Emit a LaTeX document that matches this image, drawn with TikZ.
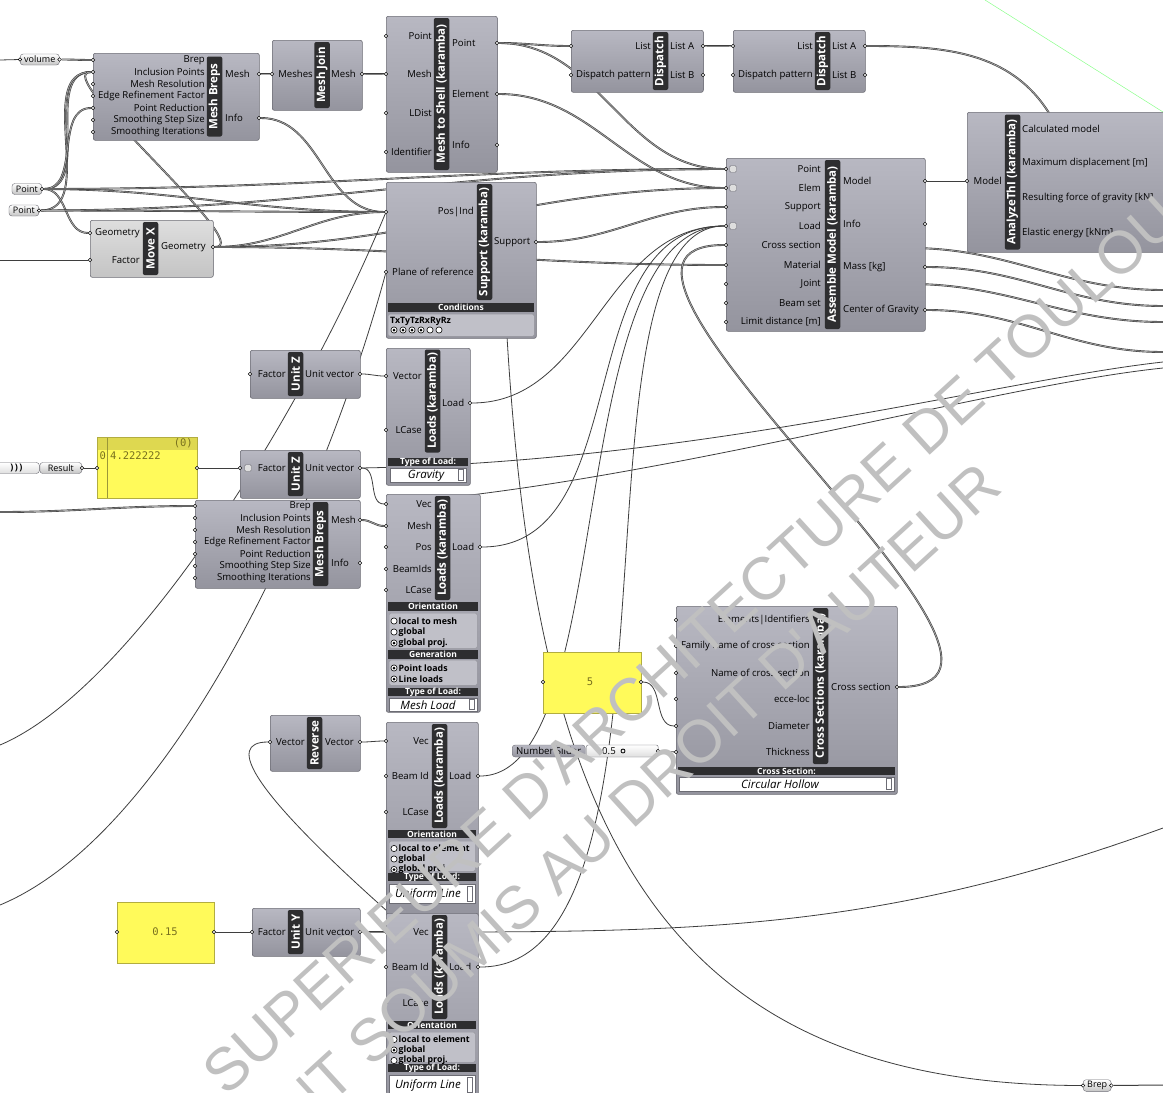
\documentclass[tikz,border=0pt]{standalone}
\usepackage{fontspec}
\setmainfont{Open Sans}
\newfontfamily\wmfont{Liberation Sans}
\newfontfamily\panelfont{DejaVu Sans Mono}
\usepackage{pdfrender}
\usetikzlibrary{backgrounds}

\definecolor{ghtop}{RGB}{184,184,194}
\definecolor{ghbot}{RGB}{148,148,158}
\definecolor{ghedge}{RGB}{108,108,116}
\definecolor{ghband}{RGB}{46,46,48}
\definecolor{ghlight}{RGB}{222,222,222}
\definecolor{ghlightb}{RGB}{196,196,196}
\definecolor{ghwire}{RGB}{62,62,62}
\definecolor{ghwirein}{RGB}{170,170,170}
\definecolor{ghyellow}{RGB}{255,250,90}
\definecolor{ghyellowd}{RGB}{222,216,80}
\definecolor{ghpaneltxt}{RGB}{120,112,30}
\definecolor{ghfield}{RGB}{192,192,200}
\definecolor{wmgray}{RGB}{192,192,192}

\begin{document}
\begin{tikzpicture}[x=1pt,y=-1pt,
        comp/.style={draw=ghedge,top color=ghtop,bottom color=ghbot,rounded corners=2pt,line width=0.6pt,anchor=north west,inner sep=0pt},
        compl/.style={comp,top color=ghlight,bottom color=ghlightb},
        band/.style={rotate=90,fill=ghband,text=white,rounded corners=2pt,inner sep=0pt,minimum height=15.5,font=\bfseries\fontsize{11.5}{11.5}\selectfont},
        inl/.style={anchor=east,inner sep=0pt,font=\fontsize{9.6}{10}\selectfont},
        outl/.style={anchor=west,inner sep=0pt,font=\fontsize{9.6}{10}\selectfont},
        port/.style={circle,draw=black,fill=white,inner sep=0pt,minimum size=3.6pt,line width=0.45pt},
        pill/.style={draw=ghedge,top color=white,bottom color=ghlightb,rounded corners=3pt,inner xsep=4pt,inner ysep=1.5pt,minimum height=11,font=\fontsize{9}{9}\selectfont},
        panel/.style={draw=ghyellowd!80!black,fill=ghyellow,anchor=north west,inner sep=0pt,line width=0.5pt},
        ptxt/.style={inner sep=0pt,text=ghpaneltxt,font=\panelfont\fontsize{10.5}{11}\selectfont},
        bar/.style={fill=ghband,text=white,inner sep=0pt,minimum height=8.5,font=\bfseries\fontsize{8.5}{8.5}\selectfont},
        rfield/.style={fill=ghfield,draw=ghedge!70,rounded corners=1.5pt,anchor=north west,inner sep=0pt,line width=0.4pt},
        radio/.style={circle,draw=black,line width=0.6pt,fill=white,minimum size=6.2pt,inner sep=0pt,
            path picture={\fill[black,opacity=#1] (path picture bounding box.center) circle (1.5pt);}},
        rtxt/.style={anchor=west,inner sep=0pt,font=\bfseries\fontsize{8.8}{9}\selectfont},
        tfield/.style={draw=ghedge,fill=white,anchor=north west,inner sep=0pt,line width=0.5pt},
        ttxt/.style={inner sep=0pt,font=\itshape\fontsize{11.5}{12}\selectfont},
        tbtn/.style={draw=ghedge,fill=white,inner sep=0pt,minimum width=5,minimum height=11,line width=0.4pt},
        icon/.style={draw=ghedge,fill=ghlight,inner sep=0pt,minimum size=6.5,rounded corners=1pt,line width=0.4pt},
        wire/.style={draw=ghwire,line width=0.8pt},
        lwire/.style={draw=ghwire,line width=0.6pt,double=ghwirein,double distance=0.7pt},
        gh/.style={out=0,in=180},
        wm/.style={inner sep=0pt,text=wmgray,font=\wmfont\fontsize{60}{60}\selectfont,rotate=42.4}
    ]
        \useasboundingbox (0,0) rectangle (1163,1093);

        % Params on the left
        \node[pill,anchor=west] (vol) at (20,59.5) {volume};
        \node[port] (vol-i) at (vol.west) {};
        \node[port] (vol-o) at (vol.east) {};
        \node[pill,anchor=east] (pt1) at (42,189) {Point};
        \node[port] (pt1-o) at (pt1.east) {};
        \node[pill,anchor=east] (pt2) at (39,210.5) {Point};
        \node[port] (pt2-o) at (pt2.east) {};

        % Mesh Breps (top)
        \node[comp,minimum width=166,minimum height=87] (mbA) at (93,53) {};
        \node[band,minimum width=80] (mbA-t) at (214.5,96.5) {Mesh Breps};
        \foreach \lab/\y [count=\i] in {Brep/60,Inclusion Points/72,Mesh Resolution/84,Edge Refinement Factor/96,Point Reduction/108,Smoothing Step Size/120,Smoothing Iterations/132}
            {\node[inl] (mbA-l\i) at (205,\y) {\lab}; \node[port] (mbA-i\i) at (93,\y) {};}
        \foreach \lab/\y [count=\i] in {Mesh/74,Info/118}
            {\node[outl] (mbA-m\i) at (225,\y) {\lab}; \node[port] (mbA-o\i) at (259,\y) {};}

        % Mesh Join
        \node[comp,minimum width=90,minimum height=70] (mj) at (272,40) {};
        \node[band,minimum width=66] (mj-t) at (322,75) {Mesh Join};
        \node[inl] (mj-l) at (313,74) {Meshes};
        \node[outl] (mj-m) at (331,74) {Mesh};
        \node[port] (mj-i) at (272,74) {};
        \node[port] (mj-o) at (362,74) {};

        % Mesh to Shell
        \node[comp,minimum width=111,minimum height=156] (ms) at (386,16) {};
        \node[band,minimum width=152] (ms-t) at (441.5,94) {Mesh to Shell (karamba)};
        \foreach \lab/\y [count=\i] in {Point/36,Mesh/74,LDist/113,Identifier/152}
            {\node[inl] (ms-l\i) at (432,\y) {\lab}; \node[port] (ms-i\i) at (386,\y) {};}
        \foreach \lab/\y [count=\i] in {Point/43,Element/94,Info/145}
            {\node[outl] (ms-m\i) at (452,\y) {\lab}; \node[port] (ms-o\i) at (497,\y) {};}

        % Dispatch x2
        \foreach \d/\x in {dpA/571,dpB/733} {
            \node[comp,minimum width=132,minimum height=62] (\d) at (\x,30) {};
            \node[band,minimum width=58] (\d-t) at (\x+89.5,61) {Dispatch};
            \node[inl] (\d-l1) at (\x+80,46) {List};
            \node[inl] (\d-l2) at (\x+80,75) {Dispatch pattern};
            \node[outl] (\d-m1) at (\x+99,46) {List A};
            \node[outl] (\d-m2) at (\x+99,75) {List B};
            \node[port] (\d-i1) at (\x,46) {};
            \node[port] (\d-i2) at (\x,75) {};
            \node[port] (\d-o1) at (\x+132,46) {};
            \node[port] (\d-o2) at (\x+132,75) {};
        }

        % AnalyzeThI
        \node[comp,minimum width=230,minimum height=140] (an) at (967,112) {};
        \node[band,minimum width=135] (an-t) at (1012.5,182) {AnalyzeThI (karamba)};
        \node[inl] (an-l) at (1002,181) {Model};
        \node[port] (an-i) at (967,181) {};
        \foreach \lab/\y [count=\i] in {Calculated model/129,Maximum displacement [m]/163,Resulting force of gravity [kN]/198,Elastic energy [kNm]/233}
            {\node[outl] (an-m\i) at (1022,\y) {\lab};}
        \coordinate (anT) at (1052,118);

        % Assemble Model
        \node[comp,minimum width=199,minimum height=173] (as) at (726,158) {};
        \node[band,minimum width=169] (as-t) at (832.5,244.5) {Assemble Model (karamba)};
        \foreach \lab/\y [count=\i] in {Point/169,Elem/188,Support/207,Load/226,Cross section/245,Material/265,Joint/284,Beam set/303,Limit distance [m]/322}
            {\node[inl] (as-l\i) at (821,\y) {\lab}; \node[port] (as-i\i) at (726,\y) {};}
        \foreach \y [count=\i] in {169,188,226}
            {\node[icon] (as-p\i) at (733,\y) {};}
        \foreach \lab/\y [count=\i] in {Model/181,Info/224,Mass [kg]/267,Center of Gravity/310}
            {\node[outl] (as-m\i) at (843,\y) {\lab}; \node[port] (as-o\i) at (925,\y) {};}
        \coordinate (asH1) at (910,248);
        \coordinate (asH2) at (910,284);

        % Move X
        \node[compl,minimum width=123,minimum height=57] (mx) at (90,220) {};
        \node[band,minimum width=53] (mx-t) at (150.5,248.5) {Move X};
        \node[inl] (mx-l1) at (140,233) {Geometry};
        \node[inl] (mx-l2) at (140,260) {Factor};
        \node[outl] (mx-m) at (161,247) {Geometry};
        \node[port] (mx-i1) at (90,233) {};
        \node[port] (mx-i2) at (90,260) {};
        \node[port] (mx-o) at (213,247) {};

        % Support
        \node[comp,minimum width=150,minimum height=156] (sp) at (386,182) {};
        \node[band,minimum width=116] (sp-t) at (484.5,242) {Support (karamba)};
        \node[inl] (sp-l1) at (474,212) {Pos|Ind};
        \node[inl] (sp-l2) at (474,272) {Plane of reference};
        \node[outl] (sp-m) at (494,242) {Support};
        \node[port] (sp-i1) at (386,212) {};
        \node[port] (sp-i2) at (386,272) {};
        \node[port] (sp-o) at (536,242) {};
        \node[bar,minimum width=146] (sp-c) at (461,307.5) {Conditions};
        \node[rfield,minimum width=146,minimum height=22] (sp-f) at (388,314) {};
        \node[rtxt] (sp-x) at (390,321) {TxTyTzRxRyRz};
        \foreach \s [count=\i] in {1,1,1,1,0,0}
            {\node[radio=\s] (sp-r\i) at (385+9*\i,330) {};}
        \coordinate (spH) at (505,300);

        % Unit Z (top) and gravity load
        \node[comp,minimum width=110,minimum height=48] (uzA) at (250,350) {};
        \node[band,minimum width=44] (uzA-t) at (295.5,374) {Unit Z};
        \node[inl] (uzA-l) at (286,374) {Factor};
        \node[outl] (uzA-m) at (305,374) {Unit vector};
        \node[port] (uzA-i) at (250,374) {};
        \node[port] (uzA-o) at (360,374) {};

        \node[comp,minimum width=84,minimum height=137] (ldG) at (386,348) {};
        \node[band,minimum width=103] (ldG-t) at (432.5,401) {Loads (karamba)};
        \node[inl] (ldG-l1) at (422,376) {Vector};
        \node[inl] (ldG-l2) at (422,430) {LCase};
        \node[outl] (ldG-m) at (442,403) {Load};
        \node[port] (ldG-i1) at (386,376) {};
        \node[port] (ldG-i2) at (386,430) {};
        \node[port] (ldG-o) at (470,403) {};
        \node[bar,minimum width=80] (ldG-c) at (428,462) {Type of Load:};
        \node[tfield,minimum width=76,minimum height=14] (ldG-f) at (390,468) {};
        \node[ttxt] (ldG-x) at (426,476) {Gravity};
        \node[tbtn] (ldG-b) at (461,475) {};

        % Result, panel and Unit Z (bottom)
        \node[pill,anchor=east,minimum width=42] (res) at (82,468) {Result};
        \node[pill,anchor=east,minimum width=46,top color=white,bottom color=ghlight] (res-a) at (res.west) {\textbf{)\,)\,)}};
        \node[port] (res-o) at (res.east) {};

        \node[panel,minimum width=100,minimum height=61] (pnA) at (97,437) {};
        \node[fill=ghyellowd,minimum width=99,minimum height=12,inner sep=0pt,anchor=north west] (pnA-h) at (97.5,437.5) {};
        \node[ptxt,anchor=east] (pnA-x0) at (193,443) {(0)};
        \node[ptxt,anchor=west] (pnA-x1) at (99.5,456) {0};
        \node[ptxt,anchor=west] (pnA-x2) at (110,456) {4.222222};
        \draw[ghyellowd!70!black,line width=0.4pt] (107,437.5) -- (107,497.5);
        \node[port] (pnA-i) at (97,468) {};
        \node[port] (pnA-o) at (197,468) {};

        \node[comp,minimum width=120,minimum height=48] (uzB) at (240,450) {};
        \node[band,minimum width=44] (uzB-t) at (295.5,474) {Unit Z};
        \node[icon] (uzB-p) at (248,468) {};
        \node[inl] (uzB-l) at (286,468) {Factor};
        \node[outl] (uzB-m) at (305,468) {Unit vector};
        \node[port] (uzB-i) at (240,468) {};
        \node[port] (uzB-o) at (360,468) {};

        % Mesh Breps (bottom)
        \node[comp,minimum width=165,minimum height=88] (mbB) at (195,500) {};
        \node[band,minimum width=84] (mbB-t) at (320.5,544) {Mesh Breps};
        \foreach \lab/\y [count=\i] in {Brep/506,Inclusion Points/518,Mesh Resolution/530,Edge Refinement Factor/542,Point Reduction/554,Smoothing Step Size/566,Smoothing Iterations/578}
            {\node[inl] (mbB-l\i) at (311,\y) {\lab}; \node[port] (mbB-i\i) at (195,\y) {};}
        \foreach \lab/\y [count=\i] in {Mesh/520,Info/563}
            {\node[outl] (mbB-m\i) at (331,\y) {\lab}; \node[port] (mbB-o\i) at (360,\y) {};}

        % Mesh load
        \node[comp,minimum width=94,minimum height=218] (ldM) at (386,494) {};
        \node[band,minimum width=104] (ldM-t) at (442.5,548) {Loads (karamba)};
        \foreach \lab/\y [count=\i] in {Vec/504,Mesh/526,Pos/547,BeamIds/569,LCase/590}
            {\node[inl] (ldM-l\i) at (432,\y) {\lab}; \node[port] (ldM-i\i) at (386,\y) {};}
        \node[outl] (ldM-m) at (452,547) {Load};
        \node[port] (ldM-o) at (480,547) {};
        \node[bar,minimum width=90] (ldM-c1) at (433,606.5) {Orientation};
        \node[rfield,minimum width=88,minimum height=35] (ldM-f1) at (389,613) {};
        \foreach \lab/\y/\s [count=\i] in {local to mesh/621/0,global/632/0,global proj./643/1}
            {\node[radio=\s] (ldM-r\i) at (394,\y) {}; \node[rtxt] (ldM-q\i) at (398.5,\y) {\lab};}
        \node[bar,minimum width=90] (ldM-c2) at (433,654.5) {Generation};
        \node[rfield,minimum width=88,minimum height=25] (ldM-f2) at (389,660) {};
        \foreach \lab/\y/\s [count=\i] in {Point loads/668/1,Line loads/679/1}
            {\node[radio=\s] (ldM-s\i) at (394,\y) {}; \node[rtxt] (ldM-w\i) at (398.5,\y) {\lab};}
        \node[bar,minimum width=90] (ldM-c3) at (433,692) {Type of Load:};
        \node[tfield,minimum width=88,minimum height=13] (ldM-f3) at (389,698) {};
        \node[ttxt] (ldM-x) at (428,705) {Mesh Load};
        \node[tbtn,minimum height=10] (ldM-b) at (472,704.5) {};

        % Panel, slider and cross sections
        \node[panel,minimum width=98,minimum height=61] (pnB) at (543,652) {};
        \node[ptxt] (pnB-x) at (590,682) {5};
        \node[port] (pnB-i) at (543,682) {};
        \node[port] (pnB-o) at (641,682) {};

        \node[pill,anchor=west,minimum width=73,minimum height=12,top color=ghtop,bottom color=ghbot,font=\fontsize{9.6}{10}\selectfont] (sl) at (512,751) {Number Slider};
        \node[draw=ghedge,top color=white,bottom color=ghlight,anchor=west,minimum width=72,minimum height=12,inner sep=0pt,rounded corners=2pt] (sl-t) at (586,751) {};
        \node[inner sep=0pt,font=\fontsize{9.6}{10}\selectfont] (sl-x) at (609,751) {0.5};
        \node[circle,draw=black,line width=0.8pt,inner sep=0pt,minimum size=4pt] (sl-k) at (623,751) {};
        \node[port] (sl-o) at (658,751) {};

        \node[comp,minimum width=221,minimum height=188] (cs) at (676,606) {};
        \node[band,minimum width=156] (cs-t) at (820.5,686) {Cross Sections (karamba)};
        \foreach \lab/\y [count=\i] in {Elements|Identifiers/620,Family name of cross section/646,Name of cross section/673,ecce-loc/699,Diameter/726,Thickness/752}
            {\node[inl] (cs-l\i) at (810,\y) {\lab}; \node[port] (cs-i\i) at (676,\y) {};}
        \node[outl] (cs-m) at (831,687) {Cross section};
        \node[port] (cs-o) at (897,687) {};
        \node[bar,minimum width=217] (cs-c) at (786.5,771) {Cross Section:};
        \node[tfield,minimum width=215,minimum height=14] (cs-f) at (679,777) {};
        \node[ttxt] (cs-x) at (780,784.5) {Circular Hollow};
        \node[tbtn] (cs-b) at (889,784) {};

        % Reverse and the two line loads
        \node[comp,minimum width=90,minimum height=56] (rv) at (270,715) {};
        \node[band,minimum width=52] (rv-t) at (314.5,743) {Reverse};
        \node[inl] (rv-l) at (305,742) {Vector};
        \node[outl] (rv-m) at (325,742) {Vector};
        \node[port] (rv-i) at (270,742) {};
        \node[port] (rv-o) at (360,742) {};

        \foreach \d/\t/\sa/\sb/\sc in {ldL1/722/0/0/1,ldL2/913/0/1/0} {
            \node[comp,minimum width=92,minimum height=195] (\d) at (386,\t) {};
            \node[band,minimum width=104] (\d-t) at (439.5,\t+54) {Loads (karamba)};
            \node[inl] (\d-l1) at (429,\t+19) {Vec};
            \node[inl] (\d-l2) at (429,\t+54) {Beam Id};
            \node[inl] (\d-l3) at (429,\t+90) {LCase};
            \node[outl] (\d-m) at (449,\t+54) {Load};
            \node[port] (\d-i1) at (386,\t+19) {};
            \node[port] (\d-i2) at (386,\t+54) {};
            \node[port] (\d-i3) at (386,\t+90) {};
            \node[port] (\d-o) at (478,\t+54) {};
            \node[bar,minimum width=88] (\d-c1) at (432,\t+112) {Orientation};
            \node[rfield,minimum width=86,minimum height=30] (\d-f1) at (389,\t+119) {};
            \node[radio=\sa] (\d-r1) at (394,\t+126.5) {};
            \node[radio=\sb] (\d-r2) at (394,\t+137) {};
            \node[radio=\sc] (\d-r3) at (394,\t+147.5) {};
            \node[rtxt] (\d-q1) at (398.5,\t+126.5) {local to element};
            \node[rtxt] (\d-q2) at (398.5,\t+137) {global};
            \node[rtxt] (\d-q3) at (398.5,\t+147.5) {global proj.};
            \node[bar,minimum width=88] (\d-c2) at (432,\t+155) {Type of Load:};
            \node[tfield,minimum width=86,minimum height=19] (\d-f2) at (389,\t+162) {};
            \node[ttxt] (\d-x) at (428,\t+172) {Uniform Line};
            \node[tbtn,minimum height=15] (\d-b) at (470,\t+171.5) {};
        }
        \coordinate (ldL2H) at (396,919);
        \coordinate (ldMH) at (445,498);

        % Panel 0.15 and Unit Y
        \node[panel,minimum width=97,minimum height=61] (pnC) at (117,902) {};
        \node[ptxt] (pnC-x) at (165,932) {0.15};
        \node[port] (pnC-i) at (117,932) {};
        \node[port] (pnC-o) at (214,932) {};

        \node[comp,minimum width=108,minimum height=48] (uy) at (252,908) {};
        \node[band,minimum width=44] (uy-t) at (295.5,932) {Unit Y};
        \node[inl] (uy-l) at (286,932) {Factor};
        \node[outl] (uy-m) at (305,932) {Unit vector};
        \node[port] (uy-i) at (252,932) {};
        \node[port] (uy-o) at (360,932) {};

        % Brep param at the bottom
        \node[pill,anchor=west] (bp) at (1083,1085.5) {Brep};
        \node[port] (bp-i) at (bp.west) {};
        \node[port] (bp-o) at (bp.east) {};

        % Free ends at the borders
        \coordinate (eL-vol) at (0,60);
        \coordinate (eL-mx) at (0,260);
        \coordinate (eL-mbB) at (0,512);
        \coordinate (eL-a1) at (0,745);
        \coordinate (eL-a2) at (0,905);
        \coordinate (eR1) at (1163,290);
        \coordinate (eR2) at (1163,306);
        \coordinate (eR3) at (1163,322);
        \coordinate (eR4) at (1163,352);
        \coordinate (eR5) at (1163,362);
        \coordinate (eR6) at (1163,368);
        \coordinate (eR7) at (1163,828);
        \coordinate (eR8) at (1163,1085);

        % Wires, behind the components
        \begin{pgfonlayer}{background}
            \fill[white] (0,0) rectangle (1163,1093);
            \draw[green!45,line width=0.5pt] (985,0) -- (1163,112);

            \draw[wire] (eL-vol) -- (vol-i);
            \draw[lwire] (vol-o) to[gh] (mbA-i1);
            \draw[lwire] (pt1-o) to[gh] (mbA-i2);
            \draw[lwire] (pt2-o) to[gh] (mbA-i2);
            \draw[lwire] (pt1-o) to[gh] (mbA-i5);
            \draw[lwire] (pt1-o) to[gh] (mx-i1);
            \draw[lwire] (mx-o) .. controls +(45,0) and +(-45,0) .. (mbA-i2);
            \draw[wire] (eL-mx) -- (mx-i2);
            \draw[lwire] (mbA-o1) to[gh] (mj-i);
            \draw[lwire] (mj-o) to[gh] (ms-i2);
            \draw[lwire] (mbA-o2) to[gh] (sp-i1);

            \draw[lwire] (ms-o1) to[gh] (dpA-i1);
            \draw[lwire] (ms-o1) to[gh] (as-i1);
            \draw[lwire] (ms-o2) to[gh] (as-i2);
            \draw[lwire] (dpA-o1) to[gh] (dpB-i1);
            \draw[lwire] (dpB-o1) to[out=0,in=120] (anT);
            \draw[wire] (as-o1) -- (an-i);

            \draw[lwire] (pt1-o) to[gh] (sp-i1);
            \draw[lwire] (pt2-o) to[gh] (sp-i1);
            \draw[lwire] (mx-o) to[gh] (sp-i1);
            \draw[lwire] (pt1-o) to[gh] (as-i1);
            \draw[lwire] (pt2-o) to[gh] (as-i1);
            \draw[lwire] (mx-o) to[gh] (as-i2);
            \draw[lwire] (mx-o) to[gh] (as-i6);
            \draw[lwire] (sp-o) to[gh] (as-i3);

            \draw[wire] (ldG-o) to[gh] (as-i4);
            \draw[wire] (ldM-o) to[gh] (as-i4);
            \draw[wire] (ldL1-o) .. controls (620,776) and (560,226) .. (as-i4);
            \draw[wire] (ldL2-o) .. controls (700,968) and (560,226) .. (as-i4);
            \draw[lwire] (cs-o) .. controls +(200,0) and +(-200,0) .. (as-i5);

            \draw[lwire] (asH1) to[gh] (eR1);
            \draw[lwire] (as-o3) to[gh] (eR2);
            \draw[lwire] (asH2) to[gh] (eR3);
            \draw[lwire] (as-o4) to[gh] (eR4);

            \draw[wire] (eL-a1) .. controls (130,690) and (300,420) .. (sp-i1);
            \draw[wire] (eL-a2) .. controls (180,830) and (330,480) .. (sp-i2);
            \draw[wire] (spH) .. controls (530,800) and (640,1085) .. (bp-i);
            \draw[wire,line width=1pt] (bp-o) -- (eR8);

            \draw[wire,line width=1pt] (res-o) -- (pnA-i);
            \draw[wire,line width=1pt] (pnA-o) -- (uzB-i);
            \draw[wire] (uzA-o) to[gh] (ldG-i1);
            \draw[wire] (uzB-o) to[gh] (ldM-i1);
            \draw[wire] (uzB-o) .. controls (700,462) and (1000,380) .. (eR5);
            \draw[wire] (ldMH) .. controls (700,470) and (1000,385) .. (eR6);
            \draw[lwire] (eL-mbB) to[gh] (mbB-i1);
            \draw[lwire] (mbB-o1) to[gh] (ldM-i2);

            \draw[wire] (pnB-o) to[gh] (cs-i5);
            \draw[wire] (sl-o) -- (cs-i6);

            \draw[wire] (rv-o) to[gh] (ldL1-i1);
            \draw[wire] (ldL2H) .. controls (250,790) and (225,742) .. (rv-i);
            \draw[wire,line width=1pt] (pnC-o) -- (uy-i);
            \draw[lwire] (uy-o) to[gh] (ldL2-i1);
            \draw[wire] (uy-o) to[out=0,in=200] (eR7);
        \end{pgfonlayer}

        % Watermark
        \node[wm,anchor=base west] (wm1) at (226,1098)
            {\textpdfrender{TextRenderingMode=Stroke,LineWidth=1}{SUPERIEURE D'ARCHITECTURE DE TOULOUSE}};
        \node[wm,anchor=base east] (wm2) at (1005,490)
            {\textpdfrender{TextRenderingMode=Stroke,LineWidth=1}{DOCUMENT SOUMIS AU DROIT D'AUTEUR}};
    \end{tikzpicture}
\end{document}
